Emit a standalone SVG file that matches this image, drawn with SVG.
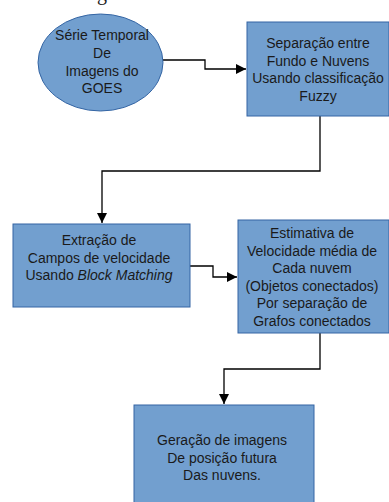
<svg xmlns="http://www.w3.org/2000/svg" width="389" height="502" viewBox="0 0 389 502">
<style>
.n{fill:#729fcf;stroke:#3465a4;stroke-width:1}
.t{font-family:"Liberation Sans",Arial,sans-serif;font-size:14px;fill:#1a1a1a;text-anchor:middle}
.c{fill:none;stroke:#000;stroke-width:1.3}
</style>
<defs>
<marker id="ah" viewBox="0 0 10 10" refX="10" refY="5" markerWidth="14" markerHeight="10" markerUnits="userSpaceOnUse" orient="auto">
<path d="M0,0L10,5L0,10z" fill="#000"/>
</marker>
</defs>
<rect width="389" height="502" fill="#fff"/>
<text x="102" y="-0.5" font-family="Liberation Serif,serif" font-size="20" fill="#1a1a1a" text-anchor="middle">g</text>
<g id="connectors">
<path class="c" d="M163,60H205V69H246" marker-end="url(#ah)"/>
<path class="c" d="M320,116V171H102V223" marker-end="url(#ah)"/>
<path class="c" d="M190,266H213V277H237" marker-end="url(#ah)"/>
<path class="c" d="M320,333V369H224V404" marker-end="url(#ah)"/>
</g>
<g id="n1">
<ellipse class="n" cx="100.5" cy="62.5" rx="62.5" ry="48.5"/>
<text class="t"><tspan x="102" y="40">Série Temporal</tspan><tspan x="102" y="58">De</tspan><tspan x="102" y="76">Imagens do</tspan><tspan x="102" y="93">GOES</tspan></text>
</g>
<g id="n2">
<rect class="n" x="247" y="22" width="142" height="94"/>
<text class="t"><tspan x="318" y="48">Separação entre</tspan><tspan x="318" y="65.5">Fundo e Nuvens</tspan><tspan x="318" y="83">Usando classificação</tspan><tspan x="318" y="100.5">Fuzzy</tspan></text>
</g>
<g id="n3">
<rect class="n" x="13" y="224" width="177" height="83"/>
<text class="t"><tspan x="99" y="245">Extração de</tspan><tspan x="99" y="262.5">Campos de velocidade</tspan><tspan x="99" y="280">Usando <tspan font-style="italic">Block Matching</tspan></tspan></text>
</g>
<g id="n4">
<rect class="n" x="238" y="220" width="151" height="113"/>
<text class="t"><tspan x="312" y="238">Estimativa de</tspan><tspan x="312" y="255.6">Velocidade média de</tspan><tspan x="312" y="273.2">Cada nuvem</tspan><tspan x="312" y="290.8">(Objetos conectados)</tspan><tspan x="312" y="308.4">Por separação de</tspan><tspan x="312" y="326">Grafos conectados</tspan></text>
</g>
<g id="n5">
<rect class="n" x="134" y="405" width="180" height="100"/>
<text class="t"><tspan x="222" y="445">Geração de imagens</tspan><tspan x="222" y="462.5">De posição futura</tspan><tspan x="222" y="480">Das nuvens.</tspan></text>
</g>
</svg>
